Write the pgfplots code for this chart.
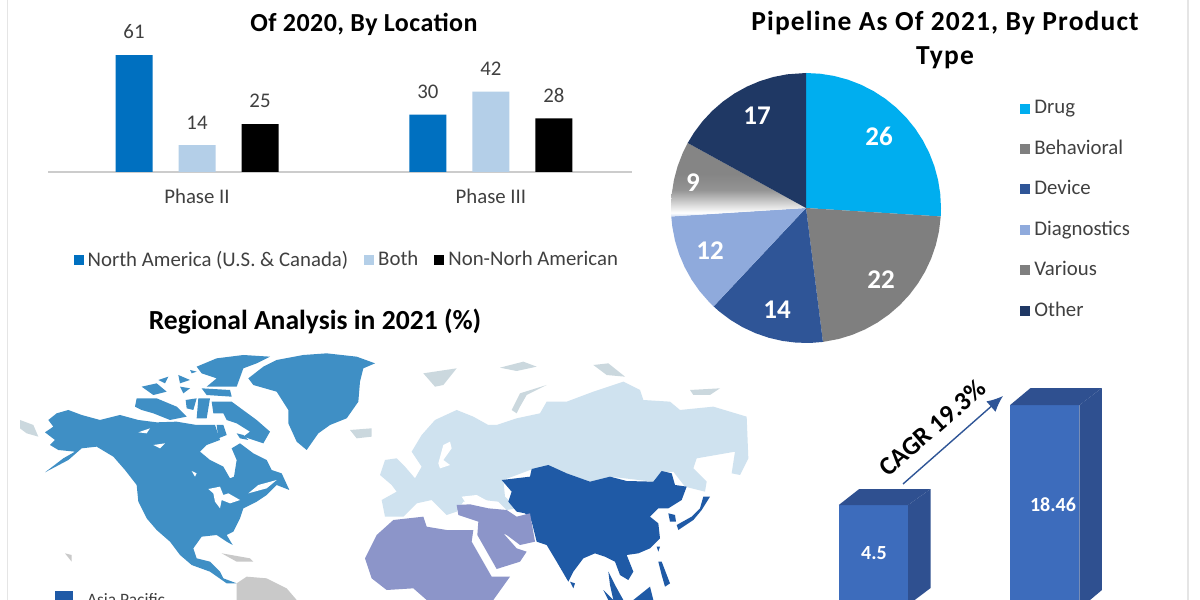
\documentclass[border=0pt]{standalone}
\usepackage{fontspec}
\usepackage{pgfplots}
\pgfplotsset{compat=1.18}
\usepgfplotslibrary{polar}
\usetikzlibrary{arrows.meta}
\setmainfont{Carlito}
\definecolor{naBlue}{HTML}{0070C0}
\definecolor{bothBlue}{HTML}{B4CFE8}
\definecolor{labelGrey}{HTML}{404040}
\definecolor{drug}{HTML}{00AEEF}
\definecolor{behav}{HTML}{7F7F7F}
\definecolor{device}{HTML}{2F5597}
\definecolor{diag}{HTML}{8FAADC}
\definecolor{other}{HTML}{1F3864}
\definecolor{barFront}{HTML}{3D6CBC}
\definecolor{barSide}{HTML}{2F5090}
\definecolor{mapNA}{HTML}{3F8FC5}
\definecolor{mapEU}{HTML}{CFE2EF}
\definecolor{mapIsl}{HTML}{CBD8DE}
\definecolor{mapAP}{HTML}{1F5AA6}
\definecolor{mapMEA}{HTML}{8C95C9}
\definecolor{mapSA}{HTML}{C9C9C9}
\pgfdeclareverticalshading{variousfade}{100bp}{color(0bp)=(white); color(25bp)=(diag!40!white); color(27.5bp)=(white); color(32bp)=(black!12); color(43bp)=(black!42); color(54bp)=(black!48); color(100bp)=(black!48)}
\pgfplotsset{
  swatch/.style={legend image code/.code={\path[##1] (0pt,-2.5pt) rectangle (5pt,2.5pt);}},
  mapaxis/.style={scale only axis, hide axis, y dir=reverse, ymin=0, ymax=765, anchor=south west},
}
\newcommand{\lbl}{\fontsize{10.4}{12}\selectfont}
\begin{document}
\begin{tikzpicture}
\useasboundingbox (0,0) rectangle (600pt,300pt);
\fill[white] (0,0) rectangle (600pt,300pt);
\draw[black!10,line width=0.6pt] (3.7pt,0) -- (3.7pt,300pt);
\draw[black!10,line width=0.6pt] (594pt,0) -- (594pt,300pt);

% grouped bars, phase by location
\begin{axis}[
  at={(24pt,214pt)}, anchor=south west,
  scale only axis, width=292pt, height=67pt,
  xmin=-0.507, xmax=1.48, ymin=0, ymax=70,
  axis x line=bottom, axis y line=none,
  x axis line style={draw=black!20,line width=0.6pt,-},
  xtick={0,1}, xticklabels={Phase II, Phase III},
  major tick length=0pt,
  xticklabel style={font=\lbl,text=labelGrey,yshift=-5pt},
  ybar=13pt, bar width=18.5pt,
  nodes near coords,
  /pgf/number format/assume math mode=true,
  every node near coord/.append style={font=\lbl,text=labelGrey,yshift=4.5pt},
  swatch,
  legend columns=-1,
  legend cell align=left,
  legend style={at={(0.5133,-0.657)},anchor=center,draw=none,fill=none,
    font=\lbl,text=labelGrey,
    /tikz/every even column/.append style={column sep=6pt}},
]
\addplot[fill=naBlue,draw=none] coordinates {(0,61) (1,30)};
\addplot[fill=bothBlue,draw=none] coordinates {(0,14) (1,42)};
\addplot[fill=black,draw=none] coordinates {(0,25) (1,28)};
\legend{North America (U.S. \& Canada), Both, Non-Norh American}
\end{axis}

% pie, angle and radius
\begin{polaraxis}[
  at={(403pt,196pt)}, anchor=center,
  scale only axis, width=135pt, height=135pt,
  ymin=0, ymax=135, hide axis, clip=false,
  swatch,
  legend cell align=left,
  legend style={at={(1.27,0.4926)},anchor=west,draw=none,fill=none,
    font=\lbl,text=labelGrey,row sep=7.6pt},
]
\addlegendimage{fill=drug,draw=none}
\addlegendimage{fill=behav,draw=none}
\addlegendimage{fill=device,draw=none}
\addlegendimage{fill=diag,draw=none}
\addlegendimage{fill=behav,draw=none}
\addlegendimage{fill=other,draw=none}
\addplot[forget plot,fill=drug,draw=none] coordinates {(0,0) (90,135) (84,135) (78,135) (72,135) (66,135) (60,135) (54,135) (48,135) (42,135) (36,135) (30,135) (24,135) (18,135) (12,135) (6,135) (0,135) (-3.6,135)};
\addplot[forget plot,fill=behav,draw=none] coordinates {(0,0) (-3.6,135) (-10,135) (-16,135) (-22,135) (-28,135) (-34,135) (-40,135) (-46,135) (-52,135) (-58,135) (-64,135) (-70,135) (-76,135) (-82.8,135)};
\addplot[forget plot,fill=device,draw=none] coordinates {(0,0) (-82.8,135) (-88,135) (-94,135) (-100,135) (-106,135) (-112,135) (-118,135) (-124,135) (-130,135) (-133.2,135)};
\addplot[forget plot,fill=diag,draw=none] coordinates {(0,0) (-133.2,135) (-136,135) (-142,135) (-148,135) (-154,135) (-160,135) (-166,135) (-172,135) (-176.4,135)};
\addplot[forget plot,shade,shading=variousfade,draw=none] coordinates {(0,0) (-176.4,135) (-180,135) (-186,135) (-192,135) (-198,135) (-204,135) (-208.8,135)};
\addplot[forget plot,fill=other,draw=none] coordinates {(0,0) (-208.8,135) (-214,135) (-220,135) (-226,135) (-232,135) (-238,135) (-244,135) (-250,135) (-256,135) (-262,135) (-270,135)};
\legend{Drug, Behavioral, Device, Diagnostics, Various, Other}
\end{polaraxis}

% map, west part, traced on a 1140 x 765 grid
\begin{axis}[mapaxis, at={(5pt,0pt)}, width=190pt, height=127.5pt, xmin=0, xmax=1140]
\addplot[fill=mapNA,draw=none] coordinates {(115,225) (140,205) (175,195) (215,210) (270,225) (330,210) (385,225) (440,232) (500,230) (560,240) (615,240) (630,285) (590,300) (570,320) (600,345) (640,365) (660,400) (672,395) (680,345) (665,310) (690,295) (730,325) (770,345) (785,375) (815,385) (838,435) (800,420) (770,450) (740,470) (700,490) (690,520) (670,560) (650,570) (668,600) (650,590) (620,570) (575,575) (550,610) (560,640) (600,650) (630,680) (640,700) (680,715) (650,715) (600,680) (545,660) (510,630) (480,590) (440,555) (410,520) (385,470) (380,420) (345,375) (310,335) (260,305) (215,310) (175,345) (105,382) (160,340) (195,320) (145,315) (120,300) (135,285) (105,262) (130,245)};
\addplot[fill=white,draw=none] coordinates {(595,432) (630,425) (640,450) (655,445) (690,465) (660,475) (635,465) (630,490) (615,470) (610,445)};
\addplot[fill=white,draw=none] coordinates {(385,262) (420,250) (410,265)};
\addplot[fill=white,draw=none] coordinates {(430,300) (465,295) (450,310)};
\addplot[fill=white,draw=none] coordinates {(545,378) (560,385) (555,395)};
\addplot[fill=white,draw=none] coordinates {(745,420) (800,405) (770,430) (715,445)};
\addplot[fill=white,draw=none] coordinates {(440,560) (475,615) (465,612) (435,570)};
% Arctic islands
\addplot[fill=mapNA,draw=none] coordinates {(380,160) (440,160) (500,185) (530,215) (480,225) (430,205) (395,195) (375,185)};
\addplot[fill=mapNA,draw=none] coordinates {(527,165) (560,160) (550,195) (530,190)};
\addplot[fill=mapNA,draw=none] coordinates {(565,160) (600,160) (590,220) (560,220)};
\addplot[fill=mapNA,draw=none] coordinates {(605,170) (665,170) (740,225) (780,260) (760,295) (700,275) (720,260) (680,235) (650,225) (640,205) (610,205)};
\addplot[fill=mapNA,draw=none] coordinates {(620,240) (640,240) (650,270) (625,280)};
\addplot[fill=mapNA,draw=none] coordinates {(680,265) (700,270) (715,285) (690,280)};
\addplot[fill=mapNA,draw=none] coordinates {(395,125) (440,115) (470,140) (430,150)};
\addplot[fill=mapNA,draw=none] coordinates {(445,105) (475,95) (465,115)};
\addplot[fill=mapNA,draw=none] coordinates {(505,90) (540,105) (510,115)};
\addplot[fill=mapNA,draw=none] coordinates {(510,125) (540,130) (520,145)};
\addplot[fill=mapNA,draw=none] coordinates {(575,130) (660,135) (665,155) (590,150)};
\addplot[fill=mapNA,draw=none] coordinates {(560,65) (620,40) (700,30) (780,35) (740,55) (700,70) (680,125) (590,125) (620,100) (575,85)};
\addplot[fill=mapNA,draw=none] coordinates {(540,75) (560,80) (545,85)};
% Greenland
\addplot[fill=mapNA,draw=none] coordinates {(715,100) (760,65) (800,45) (880,30) (950,25) (1040,35) (1095,55) (1060,70) (1050,110) (1045,170) (1010,220) (960,240) (925,265) (890,315) (860,290) (835,235) (835,195) (800,140) (730,120)};
% grey fragments and South America
\addplot[fill=mapIsl,draw=none] coordinates {(30,225) (70,240) (85,275) (50,265) (30,250)};
\addplot[fill=mapIsl,draw=none] coordinates {(1020,255) (1085,250) (1085,275) (1040,280)};
\addplot[fill=mapSA,draw=none] coordinates {(165,625) (185,630) (185,650)};
\addplot[fill=mapSA,draw=none] coordinates {(635,625) (720,640) (730,650) (680,650)};
\addplot[fill=mapSA,draw=none] coordinates {(680,715) (710,695) (770,700) (830,730) (860,765) (680,765)};
\addplot[fill=mapAP,draw=none] coordinates {(135,738) (190,738) (190,765) (135,765)};
\end{axis}

% map, east part, traced on a 1200 x 765 grid
\begin{axis}[mapaxis, at={(180pt,0pt)}, width=200pt, height=127.5pt, xmin=0, xmax=1200]
% Europe and Russia
\addplot[fill=mapEU,draw=none] coordinates {(155,320) (185,270) (225,225) (290,195) (340,215) (385,240) (410,240) (470,220) (540,205) (560,170) (620,170) (700,140) (790,110) (840,135) (850,165) (930,170) (960,195) (1060,185) (1160,215) (1165,340) (1140,390) (1115,385) (1125,320) (1010,340) (1000,370) (1040,410) (1035,440) (975,425) (940,380) (900,385) (880,410) (750,395) (690,410) (620,385) (560,365) (510,375) (430,405) (435,455) (470,490) (440,495) (415,470) (370,465) (310,470) (290,500) (260,510) (215,465) (170,475) (130,515) (75,515) (65,465) (110,440) (95,420) (60,390) (75,345) (110,340) (135,365) (165,400) (185,365)};
\addplot[fill=white,draw=none] coordinates {(235,355) (250,300) (270,290) (275,310) (250,345) (270,360) (240,370)};
\addplot[fill=white,draw=none] coordinates {(305,455) (350,450) (390,472) (320,478)};
\addplot[fill=mapIsl,draw=none] coordinates {(455,195) (480,145) (560,120) (500,150) (480,185) (470,205)};
\addplot[fill=mapIsl,draw=none] coordinates {(190,85) (290,70) (250,120) (225,125)};
\addplot[fill=mapIsl,draw=none] coordinates {(420,68) (490,50) (530,65) (470,78)};
\addplot[fill=mapIsl,draw=none] coordinates {(700,60) (745,55) (795,95) (740,90)};
\addplot[fill=mapIsl,draw=none] coordinates {(990,135) (1080,130) (1050,150) (1000,150)};
% Asia Pacific
\addplot[fill=mapAP,draw=none] coordinates {(425,405) (510,395) (515,372) (565,360) (620,385) (690,410) (750,395) (800,408) (880,410) (905,378) (935,385) (945,420) (980,425) (965,465) (925,490) (895,490) (870,515) (895,535) (900,580) (870,610) (835,625) (800,630) (820,680) (805,705) (780,690) (765,650) (735,635) (705,625) (670,640) (640,680) (625,710) (590,650) (560,600) (530,590) (515,530) (495,505) (470,500) (445,470) (455,440)};
\addplot[fill=mapAP,draw=none] coordinates {(925,505) (945,510) (948,530) (930,530)};
\addplot[fill=mapAP,draw=none] coordinates {(1030,455) (1050,455) (1025,495) (1000,525) (955,555) (950,540) (995,515) (1020,490)};
\addplot[fill=mapAP,draw=none] coordinates {(890,605) (900,605) (895,620)};
\addplot[fill=mapAP,draw=none] coordinates {(895,650) (905,650) (930,715) (915,725) (905,690)};
\addplot[fill=mapAP,draw=none] coordinates {(745,680) (765,720) (790,765) (760,765) (750,720)};
\addplot[fill=mapAP,draw=none] coordinates {(730,735) (760,765) (745,765)};
\addplot[fill=mapAP,draw=none] coordinates {(820,765) (870,725) (880,765)};
\addplot[fill=mapAP,draw=none] coordinates {(630,710) (645,715) (640,730)};
% Middle East and Africa
\addplot[fill=mapMEA,draw=none] coordinates {(290,480) (330,478) (385,490) (440,495) (470,515) (510,505) (525,590) (480,600) (440,570) (430,565) (470,610) (500,620) (480,650) (410,672) (352,570) (355,530) (295,510)};
\addplot[fill=mapMEA,draw=none] coordinates {(15,640) (50,570) (100,525) (190,515) (200,545) (260,555) (340,555) (335,590) (395,695) (450,695) (400,765) (200,765) (160,730) (80,735) (35,700)};
\end{axis}

% value bars with a cut base; x in pixels, y in the chart's own units
\begin{axis}[
  at={(400pt,0pt)}, anchor=south west,
  scale only axis, width=194pt, height=115pt,
  xmin=800, xmax=1188, ymin=-8.76, ymax=23.35,
  hide axis,
]
\addplot[fill=barFront,draw=none] coordinates {(838,-10) (838,4.5) (906,4.5) (906,-10)};
\addplot[fill=barSide,draw=none] coordinates {(838,4.5) (858,6.73) (928,6.73) (906,4.5)};
\addplot[fill=barSide,draw=none] coordinates {(906,-9.46) (906,4.5) (928,6.73) (928,-7.09)};
\addplot[fill=barFront,draw=none] coordinates {(1006,-10) (1006,18.46) (1074,18.46) (1074,-10)};
\addplot[fill=barSide,draw=none] coordinates {(1006,18.46) (1026,20.83) (1096,20.83) (1074,18.46)};
\addplot[fill=barSide,draw=none] coordinates {(1074,-10) (1074,18.46) (1096,20.83) (1096,-7.37)};
\end{axis}

\begin{scope}[x=0.5pt,y=-0.5pt,shift={(0,300pt)}]
\draw[-{Latex[length=8pt,width=7pt]},line width=0.7pt,draw=device] (903,484) -- (1003,396);
\node[rotate=41,font=\fontsize{13}{15}\selectfont\bfseries] at (932,428) {CAGR 19.3\%};
\node[white,font=\fontsize{10}{12}\selectfont\bfseries] at (874,553) {4.5};
\node[white,font=\fontsize{10}{12}\selectfont\bfseries] at (1053,505) {18.46};
\node[font=\fontsize{13}{15}\selectfont\bfseries\addfontfeature{LetterSpace=1.7}] at (364,24) {Of 2020, By Location};
\node[font=\fontsize{13.75}{15}\selectfont\bfseries\addfontfeature{LetterSpace=4.2}] at (945,23) {Pipeline As Of 2021, By Product};
\node[font=\fontsize{13.75}{15}\selectfont\bfseries\addfontfeature{LetterSpace=4.2}] at (945,58) {Type};
\node[font=\fontsize{13.8}{15}\selectfont\bfseries] at (315,322) {Regional Analysis in 2021 (\%)};
\begin{scope}[font=\fontsize{13.5}{15}\selectfont\bfseries,text=white]
\node at (879,136) {26};
\node at (881,280) {22};
\node at (777,310) {14};
\node at (710,251) {12};
\node at (693,183) {9};
\node at (757,116) {17};
\end{scope}
\node[anchor=west,text=labelGrey,font=\fontsize{8.7}{10}\selectfont] at (80,600) {Asia Pacific};
\end{scope}
\end{tikzpicture}
\end{document}
